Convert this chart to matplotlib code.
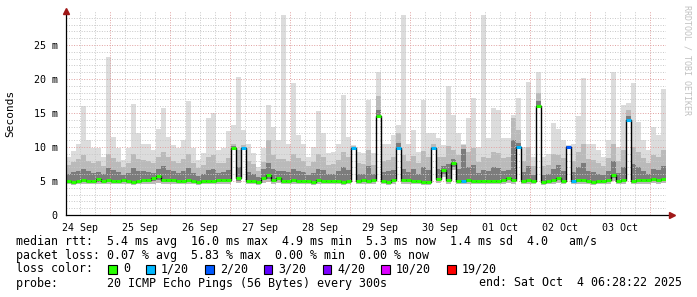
import matplotlib
matplotlib.use("Agg")
import numpy as np
import matplotlib.pyplot as plt
from matplotlib.patches import Rectangle

# 2-hour consolidated steps, x in days since Sep 24 00:00, graph starts Sep 24 06:28
start_day = 0.2697
step_days = 1 / 12

# round trip times in ms, one value per step
rtt_max = [8.6, 9.4, 10.4, 16.0, 11.0, 9.8, 9.8, 8.5, 23.3, 11.5,
           9.8, 8.1, 9.8, 16.3, 12.0, 10.5, 10.5, 9.6, 12.7, 15.8,
           11.5, 10.3, 9.8, 11.0, 16.7, 9.8, 8.1, 9.1, 14.2, 15.0,
           9.6, 9.8, 12.3, 13.2, 20.3, 12.5, 10.5, 9.1, 7.0, 9.8,
           16.2, 13.0, 11.0, 29.4, 10.5, 19.4, 11.8, 10.5, 8.6, 10.0,
           15.3, 12.0, 9.1, 9.3, 10.5, 17.7, 11.5, 10.3, 9.3, 9.1,
           16.9, 9.1, 21.1, 10.5, 10.5, 11.8, 13.2, 29.4, 10.5, 12.5,
           9.3, 16.9, 12.0, 12.0, 11.3, 10.3, 18.9, 14.7, 12.0, 10.5,
           14.2, 17.2, 10.0, 29.4, 11.3, 15.7, 15.4, 11.3, 11.3, 14.7,
           17.2, 10.0, 19.6, 8.6, 21.0, 8.6, 9.0, 13.5, 12.7, 11.0,
           10.3, 10.5, 14.5, 20.1, 10.5, 10.5, 9.6, 8.6, 11.0, 21.1,
           10.0, 16.2, 16.5, 19.4, 13.7, 11.0, 9.6, 13.0, 11.8, 18.6]

rtt_p90 = [7.4, 7.8, 8.2, 8.8, 8.0, 7.6, 7.9, 7.2, 9.0, 8.4,
           7.8, 7.0, 7.6, 8.9, 8.3, 8.1, 8.0, 7.7, 8.6, 9.2,
           8.5, 8.0, 7.6, 8.3, 8.9, 7.7, 6.9, 7.4, 8.6, 8.8,
           7.6, 7.7, 8.4, 10.5, 9.5, 10.3, 8.0, 7.5, 6.4, 7.8,
           11.0, 8.8, 8.2, 8.3, 8.0, 9.0, 8.4, 8.0, 7.2, 7.8,
           9.0, 8.5, 7.4, 7.5, 8.1, 9.3, 8.6, 10.1, 7.6, 7.5,
           9.6, 7.4, 17.5, 8.0, 8.1, 8.6, 12.0, 8.8, 8.0, 8.7,
           7.6, 9.4, 8.6, 10.5, 8.5, 8.5, 10.2, 9.5, 8.8, 10.3,
           9.2, 9.8, 7.8, 8.6, 8.4, 9.3, 9.1, 8.4, 8.5, 14.2,
           12.5, 7.9, 10.0, 7.2, 18.0, 7.2, 7.4, 9.0, 8.8, 8.4,
           10.2, 8.0, 9.2, 10.5, 8.2, 8.1, 7.7, 7.2, 8.4, 10.5,
           7.9, 9.5, 15.5, 10.0, 9.2, 8.4, 7.7, 8.8, 8.5, 9.6]

rtt_p75 = [6.1, 6.3, 6.5, 6.8, 6.4, 6.2, 6.3, 6.0, 6.9, 6.6,
           6.3, 5.9, 6.2, 6.9, 6.5, 6.4, 6.3, 6.2, 6.7, 7.2,
           6.6, 6.4, 6.2, 6.5, 6.9, 6.2, 5.8, 6.1, 6.6, 6.8,
           6.2, 6.3, 6.6, 10.1, 7.0, 10.0, 6.3, 6.1, 5.6, 6.7,
           7.6, 6.8, 6.5, 6.5, 6.3, 6.8, 6.5, 6.3, 5.9, 6.2,
           6.8, 6.6, 6.0, 6.1, 6.4, 7.0, 6.6, 9.9, 6.1, 6.1,
           7.2, 6.0, 15.5, 6.3, 6.4, 6.6, 10.6, 6.7, 6.3, 6.7,
           6.1, 7.0, 6.6, 10.0, 6.8, 7.2, 7.5, 8.2, 6.8, 9.7,
           7.0, 7.4, 6.2, 6.6, 6.5, 7.0, 6.9, 6.5, 6.6, 11.0,
           10.6, 6.3, 7.2, 5.9, 16.7, 5.9, 6.0, 6.8, 7.4, 6.5,
           10.1, 6.3, 7.0, 7.6, 6.4, 6.3, 6.1, 5.9, 6.5, 8.0,
           6.2, 7.1, 14.6, 7.5, 7.0, 6.5, 6.1, 6.8, 6.6, 7.2]

rtt_median = [5.0, 4.9, 5.0, 5.1, 5.0, 5.0, 5.3, 5.0, 5.1, 5.0,
              5.0, 5.1, 5.0, 4.9, 5.0, 5.1, 5.2, 5.4, 5.8, 5.2,
              5.1, 5.1, 5.0, 5.0, 5.1, 5.0, 4.9, 5.0, 5.0, 5.0,
              5.1, 5.2, 5.1, 9.8, 5.4, 9.8, 5.0, 5.0, 4.8, 5.5,
              5.9, 5.1, 5.5, 5.0, 5.0, 5.1, 5.0, 5.0, 5.0, 4.9,
              5.1, 5.0, 5.0, 5.0, 5.0, 4.9, 5.0, 9.8, 5.0, 5.1,
              5.0, 5.1, 14.5, 5.0, 4.9, 5.1, 9.9, 5.2, 5.1, 5.0,
              5.0, 4.9, 4.8, 9.8, 5.3, 6.6, 5.2, 7.6, 5.0, 5.0,
              5.1, 5.0, 5.0, 5.0, 5.0, 5.0, 5.0, 5.1, 5.5, 5.1,
              10.0, 5.0, 5.2, 5.0, 16.0, 4.9, 5.0, 5.1, 5.5, 5.0,
              10.0, 5.0, 5.1, 5.1, 5.0, 4.9, 5.0, 5.0, 5.2, 5.9,
              5.0, 5.1, 14.0, 5.0, 5.2, 5.1, 5.2, 5.3, 5.1, 5.3]

rtt_p25 = [4.8, 4.7, 4.8, 4.9, 4.8, 4.8, 4.9, 4.8, 4.8, 4.8,
           4.8, 4.8, 4.8, 4.7, 4.8, 4.8, 4.9, 5.0, 5.2, 4.9,
           4.8, 4.8, 4.8, 4.8, 4.8, 4.8, 4.7, 4.8, 4.8, 4.8,
           4.8, 4.9, 4.8, 9.7, 5.0, 9.7, 4.8, 4.8, 4.6, 5.1,
           5.3, 4.8, 5.1, 4.8, 4.8, 4.8, 4.8, 4.8, 4.8, 4.7,
           4.8, 4.8, 4.8, 4.8, 4.8, 4.7, 4.8, 9.7, 4.8, 4.8,
           4.8, 4.8, 14.4, 4.8, 4.7, 4.8, 9.8, 4.9, 4.8, 4.8,
           4.8, 4.7, 4.6, 9.7, 5.0, 6.0, 4.9, 7.0, 4.8, 4.8,
           4.8, 4.8, 4.8, 4.8, 4.8, 4.8, 4.8, 4.8, 5.1, 4.8,
           9.9, 4.8, 4.9, 4.8, 15.9, 4.7, 4.8, 4.8, 5.1, 4.8,
           9.9, 4.8, 4.8, 4.8, 4.8, 4.7, 4.8, 4.8, 4.9, 5.4,
           4.8, 4.8, 13.9, 4.8, 4.9, 4.8, 4.9, 5.0, 4.8, 5.0]

rtt_min = [4.5, 4.4, 4.5, 4.6, 4.5, 4.5, 4.6, 4.5, 4.5, 4.5,
           4.5, 4.5, 4.5, 4.4, 4.5, 4.5, 4.6, 4.6, 4.7, 4.6,
           4.5, 4.5, 4.5, 4.5, 4.5, 4.5, 4.4, 4.5, 4.5, 4.5,
           4.5, 4.6, 4.5, 9.5, 4.7, 9.6, 4.5, 4.5, 4.4, 4.7,
           4.8, 4.5, 4.7, 4.5, 4.5, 4.5, 4.5, 4.5, 4.5, 4.4,
           4.5, 4.5, 4.5, 4.5, 4.5, 4.4, 4.5, 9.6, 4.5, 4.5,
           4.5, 4.5, 14.2, 4.5, 4.4, 4.5, 9.7, 4.6, 4.5, 4.5,
           4.5, 4.4, 4.4, 9.6, 4.7, 5.6, 4.6, 6.6, 4.5, 4.5,
           4.5, 4.5, 4.5, 4.5, 4.5, 4.5, 4.5, 4.5, 4.7, 4.5,
           9.8, 4.5, 4.6, 4.5, 15.7, 4.4, 4.5, 4.5, 4.7, 4.5,
           9.8, 4.5, 4.5, 4.5, 4.5, 4.4, 4.5, 4.5, 4.6, 5.0,
           4.5, 4.5, 13.7, 4.5, 4.6, 4.5, 4.6, 4.7, 4.5, 4.7]

# lost pings out of 20, per step
loss = [0] * 35 + [1] + [0] * 21 + [1] + [0] * 8 + [1] + [0] * 6 + [1] + [0] * 5 + [1] \
    + [0] * 10 + [1] + [0] * 9 + [2, 1] + [0] * 10 + [1] + [0] * 7

day_labels = ['24 Sep', '25 Sep', '26 Sep', '27 Sep', '28 Sep',
              '29 Sep', '30 Sep', '01 Oct', '02 Oct', '03 Oct']
y_ticks = [0, 5, 10, 15, 20, 25]
y_labels = ['0', '5 m', '10 m', '15 m', '20 m', '25 m']

loss_levels = [0, 1, 2, 3, 4, 10, 19]
loss_names = ['0', '1/20', '2/20', '3/20', '4/20', '10/20', '19/20']
loss_colors = ['#26ff00', '#00b8ff', '#0059ff', '#5e00ff', '#7e00ff', '#dd00ff', '#ff0000']

MONO = 'DejaVu Sans Mono'
W, H = 697, 297


def px_x(x):
    return x / W


def px_y(y):
    return 1 - y / H


fig = plt.figure(figsize=(W / 100, H / 100), dpi=100)
ax = fig.add_axes([px_x(66), px_y(215), 600 / W, 204 / H])

n = len(rtt_max)
edges = start_day + step_days * np.arange(n + 1)


def ext(values):
    return np.append(values, values[-1])


ax.fill_between(edges, ext(rtt_min), ext(rtt_max), step='post', color='#dcdcdc', lw=0, zorder=1)
ax.fill_between(edges, ext(rtt_min), ext(rtt_p90), step='post', color='#bababa', lw=0, zorder=1)
ax.fill_between(edges, ext(rtt_p25), ext(rtt_p75), step='post', color='#7c7c7c', lw=0, zorder=1)

# grid over the smoke, dotted like rrdtool
minor = dict(color='#c8c8c8', lw=0.7, ls=(0, (1, 1.6)), zorder=2)
major = dict(color='#e0a0a0', lw=0.7, ls=(0, (1, 1.6)), zorder=2)
for v in range(1, 30):
    ax.axhline(v, **(major if v % 5 == 0 else minor))
for q in np.arange(1, 41) * 0.25:
    if q < start_day or q > start_day + 10:
        continue
    ax.axvline(q, **(major if q % 1 == 0 else minor))

# median: black step line plus loss coloured segments
ax.step(edges, ext(rtt_median), where='post', color='black', lw=1.0, zorder=3)
seg_colors = [loss_colors[loss_levels.index(l)] for l in loss]
ax.hlines(rtt_median, edges[:-1], edges[1:], colors=seg_colors, lw=2.2, zorder=4)

ax.set_xlim(start_day, start_day + 10)
ax.set_ylim(0, 30)
for s in ax.spines.values():
    s.set_visible(False)
ax.plot([0, 0], [0, 1.0], transform=ax.transAxes, color='black', lw=0.9, clip_on=False, zorder=5)
ax.plot([0, 1.01], [0, 0], transform=ax.transAxes, color='black', lw=0.9, clip_on=False, zorder=5)
ax.plot([0], [1.0], marker='^', ms=4, color='#a01818', transform=ax.transAxes, clip_on=False, zorder=6)
ax.plot([1.01], [0], marker='>', ms=4, color='#a01818', transform=ax.transAxes, clip_on=False, zorder=6)

ax.set_xticks([d + 0.5 for d in range(len(day_labels))], day_labels)
ax.set_yticks(y_ticks, y_labels)
ax.tick_params(length=0, labelsize=7.2, pad=6)
for lab in ax.get_xticklabels() + ax.get_yticklabels():
    lab.set_family(MONO)

fig.text(px_x(10), px_y(113), 'Seconds', rotation=90, ha='center', va='center',
         family=MONO, fontsize=8)
fig.text(px_x(687), px_y(5), 'RRDTOOL / TOBI OETIKER', rotation=270, ha='center', va='top',
         family=MONO, fontsize=6, color='#c0c0c0')

# legend block
cw = 7.0
fs = 8.37
fig.text(px_x(16), px_y(241), 'median rtt:  5.4 ms avg  16.0 ms max  4.9 ms min  5.3 ms now  1.4 ms sd  4.0   am/s',
         va='center', family=MONO, fontsize=fs)
fig.text(px_x(16), px_y(255), 'packet loss: 0.07 % avg  5.83 % max  0.00 % min  0.00 % now',
         va='center', family=MONO, fontsize=fs)
fig.text(px_x(16), px_y(269), 'loss color:', va='center', family=MONO, fontsize=fs)
c = 13.2
for name, col in zip(loss_names, loss_colors):
    x0 = 16 + c * cw
    fig.patches.append(Rectangle((px_x(x0), px_y(273.5)), 8.5 / W, 9 / H, transform=fig.transFigure,
                                 facecolor=col, edgecolor='black', lw=0.8, figure=fig))
    fig.text(px_x(16 + (c + 2.1) * cw), px_y(269), name, va='center', family=MONO, fontsize=fs)
    c = c + 2.1 + len(name) + 2.3
fig.text(px_x(16), px_y(283), 'probe:       20 ICMP Echo Pings (56 Bytes) every 300s',
         va='center', family=MONO, fontsize=fs)
fig.text(px_x(682), px_y(283), 'end: Sat Oct  4 06:28:22 2025', ha='right', va='center',
         family=MONO, fontsize=fs)

fig.savefig('out.png', dpi=100, facecolor='white')
